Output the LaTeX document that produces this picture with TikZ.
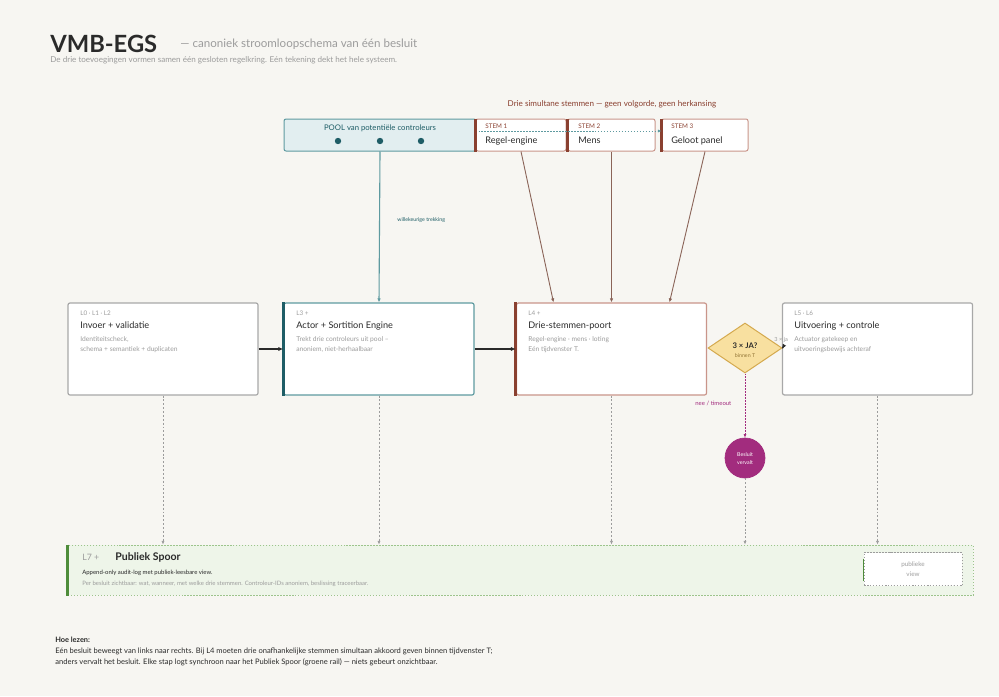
\documentclass[tikz,border=0pt]{standalone}
\usepackage{fontspec}
\setmainfont{Lato}
\usetikzlibrary{shapes.geometric,arrows.meta,calc}

\newlength{\du}
\setlength{\du}{0.02cm}
\newcommand{\fsz}[1]{\fontsize{#1}{#1}\selectfont}

\definecolor{bgcolor}{HTML}{F7F6F2}
\definecolor{inkcolor}{HTML}{2A2A2A}
\definecolor{greycolor}{HTML}{9C9C9C}
\definecolor{boxgrey}{HTML}{A8A8A8}
\definecolor{tealcolor}{HTML}{5E9AA0}
\definecolor{tealfill}{HTML}{E2EEF0}
\definecolor{tealdark}{HTML}{1E5D66}
\definecolor{browncolor}{HTML}{8A4030}
\definecolor{brownline}{HTML}{C9958A}
\definecolor{stemline}{HTML}{8A6458}
\definecolor{goldfill}{HTML}{F8E0A0}
\definecolor{goldline}{HTML}{D4A94E}
\definecolor{purplecolor}{HTML}{A22C7E}
\definecolor{greencolor}{HTML}{4E8C3A}
\definecolor{greenfill}{HTML}{EEF5E9}
\definecolor{greenline}{HTML}{9CC48C}

\begin{document}
\begin{tikzpicture}[x=\du,y=-\du,
  txt/.style={anchor=base west,inner sep=0pt,text=inkcolor},
  kicker/.style={txt,text=greycolor,font=\fsz{3.6}},
  boxtitle/.style={txt,font=\fsz{5.2}},
  boxnote/.style={txt,text=greycolor,font=\fsz{3.8}},
  stapbox/.style={draw=boxgrey,fill=white,line width=1.2\du,rounded corners=2\du,
    minimum width=190\du,minimum height=92\du,inner sep=0pt},
  actorbox/.style={stapbox,draw=tealcolor},
  poortbox/.style={stapbox,draw=brownline},
  stembox/.style={draw=brownline,fill=white,line width=1\du,rounded corners=2\du,
    minimum height=32\du,inner sep=0pt},
  leftbar/.style={line width=3\du},
  dotline/.style={dash pattern=on 0.85pt off 0.85pt},
  tip/.style={-{Latex[length=2pt,width=1.7pt]}},
  flow/.style={draw=inkcolor,line width=1.3\du,-{Latex[length=2.8pt,width=2.3pt]}},
  stemarrow/.style={draw=stemline,line width=0.9\du,-{Latex[length=2.3pt,width=2pt]}},
  logline/.style={draw=greycolor,line width=0.6\du,dash pattern=on 1.1pt off 1.1pt,tip}]

\fill[bgcolor] (0,0) rectangle (999,696);
\useasboundingbox (0,0) rectangle (999,696);

% header
\node[txt,font=\fsz{13.5}\bfseries] (titel) at (50,52) {VMB-EGS};
\node[txt,text=greycolor,font=\fsz{6.6}] (ondertitel) at (180,48) {— canoniek stroomloopschema van één besluit};
\node[txt,text=greycolor,font=\fsz{4.6}] (intro) at (50,63) {De drie toevoegingen vormen samen één gesloten regelkring. Eén tekening dekt het hele systeem.};

% pool and stemmen
\node[txt,anchor=base,text=browncolor,font=\fsz{4.6}] (stemkop) at (612,106) {Drie simultane stemmen — geen volgorde, geen herkansing};
\node[draw=tealcolor,fill=tealfill,line width=1\du,rounded corners=2\du,minimum width=192\du,minimum height=32\du,inner sep=0pt] (pool) at (380,135) {};
\node[txt,anchor=base,text=tealdark,font=\fsz{4.4}] (poolkop) at (380,130) {POOL van potentiële controleurs};
\fill[tealdark] (338,141) circle (3.2\du) (380,141) circle (3.2\du) (421,141) circle (3.2\du);

\node[stembox,minimum width=90\du] (stem1) at (521,135) {};
\node[stembox,minimum width=87\du] (stem2) at (611.5,135) {};
\node[stembox,minimum width=86\du] (stem3) at (705,135) {};
\draw[leftbar,browncolor] (stem1.north west) -- (stem1.south west);
\draw[leftbar,browncolor] (stem2.north west) -- (stem2.south west);
\draw[leftbar,browncolor] (stem3.north west) -- (stem3.south west);
\draw[tealcolor,line width=0.8\du,dotline,tip]
  ($(pool.east)+(2,-4)$) -- ($(stem3.west)+(0,-4)$);
\node[txt,text=browncolor,font=\fsz{3.6}] (stem1kop) at (485,128) {STEM 1};
\node[txt,font=\fsz{5.2}] (stem1naam) at (485,143) {Regel-engine};
\node[txt,text=browncolor,font=\fsz{3.6}] (stem2kop) at (578,128) {STEM 2};
\node[txt,font=\fsz{5.2}] (stem2naam) at (578,143) {Mens};
\node[txt,text=browncolor,font=\fsz{3.6}] (stem3kop) at (671,128) {STEM 3};
\node[txt,font=\fsz{5.2}] (stem3naam) at (671,143) {Geloot panel};

% de stappen
\node[stapbox] (invoer) at (163,349) {};
\node[actorbox] (actor) at (379,349) {};
\node[poortbox] (poort) at (611.5,349) {};
\node[stapbox] (uitvoering) at (877.5,349) {};
\draw[leftbar,tealdark] (actor.north west) -- (actor.south west);
\draw[leftbar,browncolor] (poort.north west) -- (poort.south west);
\node[draw=goldline,fill=goldfill,line width=1\du,diamond,minimum width=74\du,minimum height=50\du,inner sep=0pt] (check) at (745,348) {};
\node[draw=purplecolor,fill=purplecolor,circle,minimum size=40\du,inner sep=0pt] (vervalt) at (745,458) {};

\node[kicker] (invoerlvl) at (80,315) {L0 · L1 · L2};
\node[boxtitle] (invoerkop) at (80,328) {Invoer + validatie};
\node[boxnote] (invoernota) at (80,341) {Identiteitscheck,};
\node[boxnote] (invoernota2) at (80,351) {schema + semantiek + duplicaten};

\node[kicker] (actorlvl) at (296,315) {L3 +};
\node[boxtitle] (actorkop) at (296,328) {Actor + Sortition Engine};
\node[boxnote] (actornota) at (296,341) {Trekt drie controleurs uit pool –};
\node[boxnote] (actornota2) at (296,351) {anoniem, niet-herhaalbaar};

\node[kicker] (poortlvl) at (528,315) {L4 +};
\node[boxtitle] (poortkop) at (528,328) {Drie-stemmen-poort};
\node[boxnote] (poortnota) at (528,341) {Regel-engine · mens · loting};
\node[boxnote] (poortnota2) at (528,351) {Eén tijdvenster T.};

\node[kicker] (uitvlvl) at (794,315) {L5 · L6};
\node[boxtitle] (uitvkop) at (794,328) {Uitvoering + controle};
\node[boxnote] (uitvnota) at (794,341) {Actuator gatekeep en};
\node[boxnote] (uitvnota2) at (794,351) {uitvoeringsbewijs achteraf};

\node[txt,anchor=base,font=\fsz{4.4}\bfseries] (checkkop) at (745,348) {3 × JA?};
\node[txt,anchor=base,text=goldline!70!black,font=\fsz{3}] (checknota) at (745,357) {binnen T};
\node[txt,anchor=base,text=white,font=\fsz{3}] (vervaltkop) at (745,456) {Besluit};
\node[txt,anchor=base,text=white,font=\fsz{3}] (vervaltnota) at (745,464) {vervalt};

% verbindingen
\draw[flow] (invoer.east) -- (actor.west);
\draw[flow] (actor.east) -- (poort.west);
\draw[flow] (check.east) -- (uitvoering.west);
\node[txt,text=greycolor,font=\fsz{3.2}] (jalabel) at (774,341) {3 × ja};
\draw[stemarrow,draw=tealcolor,line width=1.1\du] (pool.south) -- (actor.north);
\node[txt,text=tealdark,font=\fsz{3}] (treklabel) at (397,221) {willekeurige trekking};
\draw[stemarrow] (stem1.south) -- ($(poort.north)+(-58,0)$);
\draw[stemarrow] (stem2.south) -- (poort.north);
\draw[stemarrow] (stem3.south) -- ($(poort.north)+(58,0)$);
\draw[purplecolor,line width=0.9\du,dotline,tip] (check.south) -- (vervalt.north);
\node[txt,text=purplecolor,font=\fsz{3.4}] (neelabel) at (695,405) {nee / timeout};

% publiek spoor
\node[draw=greenline,fill=greenfill,line width=1\du,dotline,minimum width=905\du,minimum height=50\du,inner sep=0pt] (spoor) at (520.5,570) {};
\draw[leftbar,greencolor] (spoor.north west) -- (spoor.south west);
\draw[logline] (invoer.south) -- (invoer.south |- spoor.north);
\draw[logline] (actor.south) -- (actor.south |- spoor.north);
\draw[logline] (poort.south) -- (poort.south |- spoor.north);
\draw[logline] (vervalt.south) -- (vervalt.south |- spoor.north);
\draw[logline] (uitvoering.south) -- (uitvoering.south |- spoor.north);
\node[txt,text=greycolor,font=\fsz{5}] (spoorlvl) at (82,560) {L7 +};
\node[txt,font=\fsz{6}\bfseries] (spoorkop) at (115,560) {Publiek Spoor};
\node[txt,font=\fsz{3.4}] (spoornota) at (82,574) {Append-only audit-log met publiek-leesbare view.};
\node[txt,text=greycolor,font=\fsz{3.4}] (spoornota2) at (82,585) {Per besluit zichtbaar: wat, wanneer, met welke drie stemmen. Controleur-IDs anoniem, beslissing traceerbaar.};
\node[draw=greycolor,fill=white,line width=0.7\du,dotline,cylinder,shape border rotate=90,aspect=0.35,minimum width=98\du,minimum height=33\du,inner sep=0pt] (view) at (913,569.5) {};
\draw[leftbar,greencolor,line width=1.5\du] ($(view.west)+(0,-11)$) -- ($(view.west)+(0,11)$);
\node[txt,anchor=base,text=greycolor,font=\fsz{3.6}] (viewkop) at (913,566) {publieke};
\node[txt,anchor=base,text=greycolor,font=\fsz{3.6}] (viewnota) at (913,576) {view};

% legenda
\node[txt,font=\fsz{4.2}\bfseries] (leeskop) at (55,642) {Hoe lezen:};
\node[txt,font=\fsz{4.3}] (lees1) at (55,653) {Eén besluit beweegt van links naar rechts. Bij L4 moeten drie onafhankelijke stemmen simultaan akkoord geven binnen tijdvenster T;};
\node[txt,font=\fsz{4.3}] (lees2) at (55,664) {anders vervalt het besluit. Elke stap logt synchroon naar het Publiek Spoor (groene rail) — niets gebeurt onzichtbaar.};
\end{tikzpicture}
\end{document}
